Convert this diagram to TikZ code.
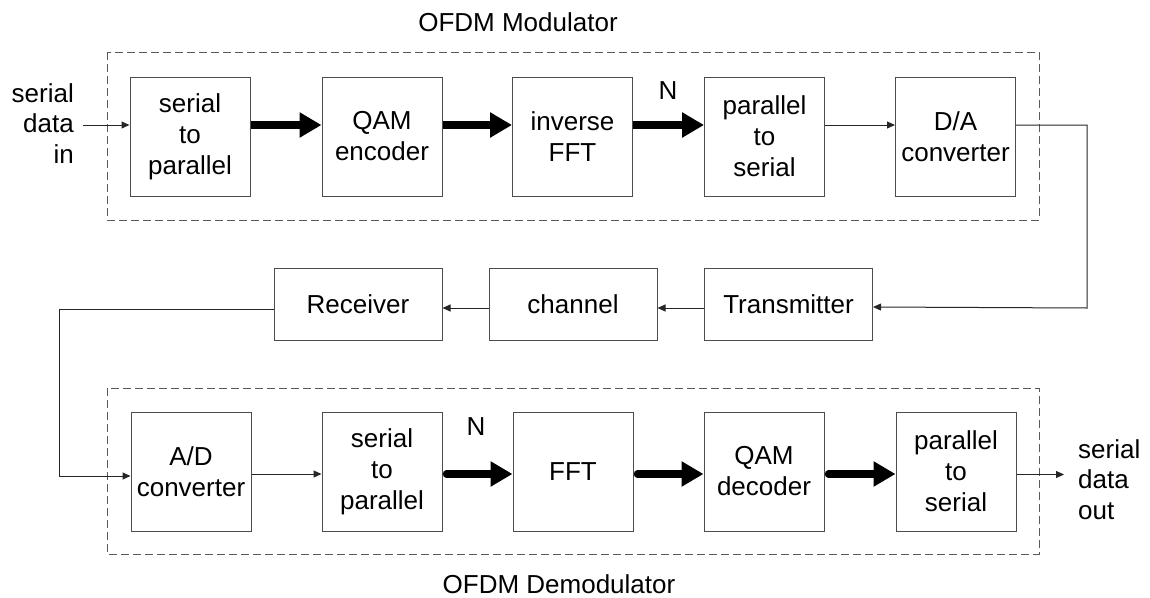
\documentclass[tikz,border=0pt]{standalone}
\usepackage{fontspec}
\setmainfont{Liberation Sans}
\usetikzlibrary{arrows.meta,positioning}

\tikzset{
  block/.style={draw=black!70, line width=1pt, fill=white, minimum width=120pt,
                minimum height=119pt, align=center, inner sep=0pt,
                font=\fontsize{26}{31}\selectfont},
  wideblock/.style={block, minimum width=168pt, minimum height=72pt},
  thin/.style={draw=black!85, line width=1pt, -{Triangle[length=8pt,width=7pt]}},
  thick/.style={draw=black, line width=7.5pt, line cap=round,
                -{Triangle[length=22pt,width=24pt]}},
  frame/.style={draw=black!65, line width=1pt, dash pattern=on 8pt off 4pt},
  label/.style={inner sep=0pt, font=\fontsize{26}{30.5}\selectfont},
}

\begin{document}
\begin{tikzpicture}[x=1pt, y=-1pt]
\useasboundingbox (0,0) rectangle (1150,597);

% modulator and demodulator frames
\draw[frame] (107,52) rectangle (1039,220);
\draw[frame] (107,388) rectangle (1039,554);

\node[label, anchor=north] (modt) at (518,12) {OFDM Modulator};
\node[label, anchor=north] (demt) at (559,574) {OFDM Demodulator};

% transmit chain
\node[block] (sp1) at (190,136.5) {serial\\to\\parallel};
\node[block] (qame) at (382,136.5) {QAM\\encoder};
\node[block] (ifft) at (572.5,136.5) {inverse\\FFT};
\node[block] (ps1) at (764.5,136.5) {parallel\\to\\serial};
\node[block] (dac) at (955.5,136.5) {D/A\\converter};

% channel
\node[wideblock] (tx) at (788.5,304) {Transmitter};
\node[wideblock] (ch) at (573,304) {channel};
\node[wideblock] (rx) at (358,304) {Receiver};

% receive chain
\node[block] (adc) at (191,471.5) {A/D\\converter};
\node[block] (sp2) at (382,471.5) {serial\\to\\parallel};
\node[block] (fft) at (573,471.5) {FFT};
\node[block] (qamd) at (764,471.5) {QAM\\decoder};
\node[block] (ps2) at (956,471.5) {parallel\\to\\serial};

% input / output texts
\node[label, anchor=north east, align=right] (inl) at (74,83) {serial\\data\\in};
\node[label, anchor=north west, align=left] (outl) at (1078,439) {serial\\data\\out};
\node[label] (n1) at (668,91) {N};
\node[label] (n2) at (476,426.5) {N};

\coordinate (din) at (83,125);
\coordinate (dout) at (1064,474.5);
\coordinate (rloop) at (1087,308);
\coordinate (lloop) at (59,309);

% connectors, transmit side
\draw[thin] (din) -- ([yshift=11.5pt]sp1.west);
\draw[thick, line cap=butt] ([yshift=11.5pt]sp1.east) -- ([yshift=11.5pt]qame.west);
\draw[thick, line cap=butt] ([yshift=11.5pt]qame.east) -- ([yshift=11.5pt]ifft.west);
\draw[thick, line cap=butt] ([yshift=11.5pt]ifft.east) -- ([yshift=11.5pt]ps1.west);
\draw[thin] ([yshift=11.5pt]ps1.east) -- ([yshift=11.5pt]dac.west);

% loop through the channel
\draw[thin] ([yshift=11.5pt]dac.east) -| (rloop) -- ([yshift=-3pt]tx.east);
\draw[thin] ([yshift=-4pt]tx.west) -- ([yshift=-4pt]ch.east);
\draw[thin] ([yshift=-4pt]ch.west) -- ([yshift=-4pt]rx.east);
\draw[thin] ([yshift=-5pt]rx.west) -- (lloop) |- ([yshift=-4.5pt]adc.west);

% connectors, receive side
\draw[thin] ([yshift=-2.5pt]adc.east) -- ([yshift=-2.5pt]sp2.west);
\draw[thick] ([yshift=-2.5pt,xshift=4pt]sp2.east) -- ([yshift=-2.5pt]fft.west);
\draw[thick] ([yshift=-2.5pt,xshift=4pt]fft.east) -- ([yshift=-2.5pt]qamd.west);
\draw[thick] ([yshift=-2.5pt,xshift=4pt]qamd.east) -- ([yshift=-2.5pt]ps2.west);
\draw[thin] ([yshift=-3pt]ps2.east) -- (dout);
\end{tikzpicture}
\end{document}
